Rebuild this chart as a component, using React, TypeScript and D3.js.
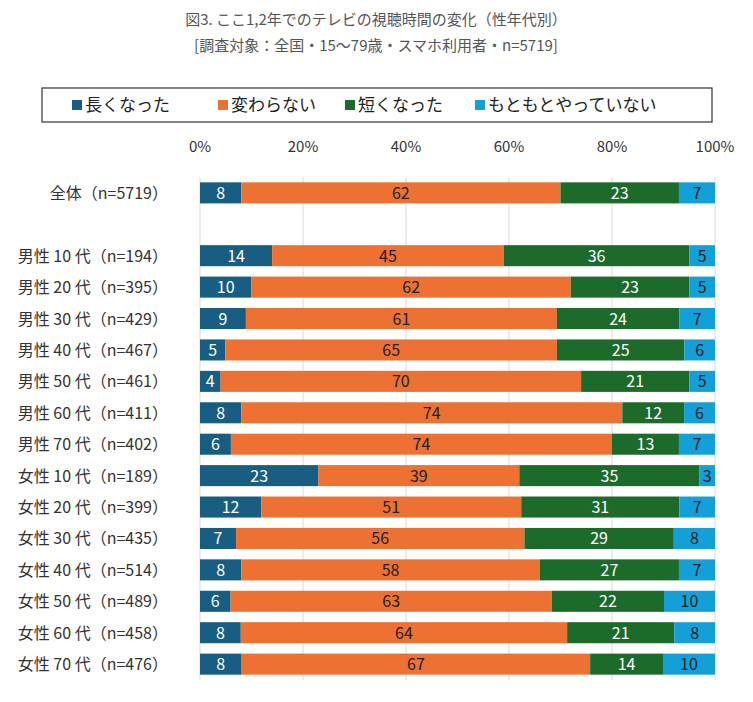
import React from "react";
import * as d3 from "d3";

const categories = [
  "全体（n=5719）",
  "",
  "男性 10 代（n=194）",
  "男性 20 代（n=395）",
  "男性 30 代（n=429）",
  "男性 40 代（n=467）",
  "男性 50 代（n=461）",
  "男性 60 代（n=411）",
  "男性 70 代（n=402）",
  "女性 10 代（n=189）",
  "女性 20 代（n=399）",
  "女性 30 代（n=435）",
  "女性 40 代（n=514）",
  "女性 50 代（n=489）",
  "女性 60 代（n=458）",
  "女性 70 代（n=476）",
];
const seriesNames = ["長くなった", "変わらない", "短くなった", "もともとやっていない"];
const longer = [8, null, 14, 10, 9, 5, 4, 8, 6, 23, 12, 7, 8, 6, 8, 8];
const same = [62, null, 45, 62, 61, 65, 70, 74, 74, 39, 51, 56, 58, 63, 64, 67];
const shorter = [23, null, 36, 23, 24, 25, 21, 12, 13, 35, 31, 29, 27, 22, 21, 14];
const never = [7, null, 5, 5, 7, 6, 5, 6, 7, 3, 7, 8, 7, 10, 8, 10];
const ticks = [0, 0.2, 0.4, 0.6, 0.8, 1];
const title1 = "図3. ここ1,2年でのテレビの視聴時間の変化（性年代別）";
const title2 = "[調査対象：全国・15～79歳・スマホ利用者・n=5719]";

const colors = ["#175e82", "#ec7133", "#1d6b2a", "#139fd8"];
const textColors = ["#ffffff", "#222222", "#ffffff", "#222222"];
const FONT = "'Noto Sans CJK JP', 'Noto Sans', sans-serif";

export default function App() {
  const W = 753, H = 702;
  const x = d3.scaleLinear().domain([0, 1]).range([200, 715]);
  const y = d3.scaleBand<number>().domain(d3.range(categories.length)).range([177, 680]).paddingInner(0.33).paddingOuter(0.17);
  const rows = categories.map((c, i) => ({ i, v: [longer[i], same[i], shorter[i], never[i]] }));
  const data = rows.filter(r => r.v[0] !== null).map(r => ({ i: r.i, a: r.v[0] as number, b: r.v[1] as number, c: r.v[2] as number, d: r.v[3] as number }));
  const stack = d3.stack<any>().keys(["a", "b", "c", "d"]).offset(d3.stackOffsetExpand);
  const layers = stack(data);
  const bh = y.bandwidth();

  const legendX = [72, 218, 345, 475];

  return (
    <svg width={W} height={H} style={{ position: "absolute", left: 0, top: 0, background: "#fff" }} fontFamily={FONT}>
      <rect x={0} y={0} width={W} height={H} fill="#fff" />
      <text x={376} y={25} textAnchor="middle" fontSize={15} fill="#555">{title1}</text>
      <text x={376} y={51} textAnchor="middle" fontSize={15} fill="#555">{title2}</text>

      <rect x={42} y={88} width={670} height={34} fill="#fff" stroke="#333" strokeWidth={1.2} />
      {seriesNames.map((s, k) => (
        <g key={s}>
          <rect x={legendX[k]} y={100} width={10} height={10} fill={colors[k]} />
          <text x={legendX[k] + 13} y={111} fontSize={17} fill="#222">{s}</text>
        </g>
      ))}

      {ticks.map(t => (
        <g key={t}>
          <line x1={x(t)} x2={x(t)} y1={177} y2={680} stroke="#d9d9d9" strokeWidth={1} />
          <text x={x(t)} y={152} textAnchor="middle" fontSize={15} fill="#333">{Math.round(t * 100) + "%"}</text>
        </g>
      ))}

      {categories.map((c, i) => c ? (
        <text key={i} x={168} y={(y(i) as number) + bh / 2 + 6} textAnchor="end" fontSize={16} fill="#333">{c}</text>
      ) : null)}

      {layers.map((layer, k) => (
        <g key={k}>
          {layer.map((seg, j) => {
            const d = seg.data as any;
            const x0 = x(seg[0]), x1 = x(seg[1]);
            const yy = y(d.i) as number;
            const val = d[["a", "b", "c", "d"][k]];
            return (
              <g key={j}>
                <rect x={x0} y={yy} width={x1 - x0} height={bh} fill={colors[k]} />
                <text x={(x0 + x1) / 2} y={yy + bh / 2 + 6} textAnchor="middle" fontSize={16} fill={textColors[k]}>{val}</text>
              </g>
            );
          })}
        </g>
      ))}
    </svg>
  );
}
